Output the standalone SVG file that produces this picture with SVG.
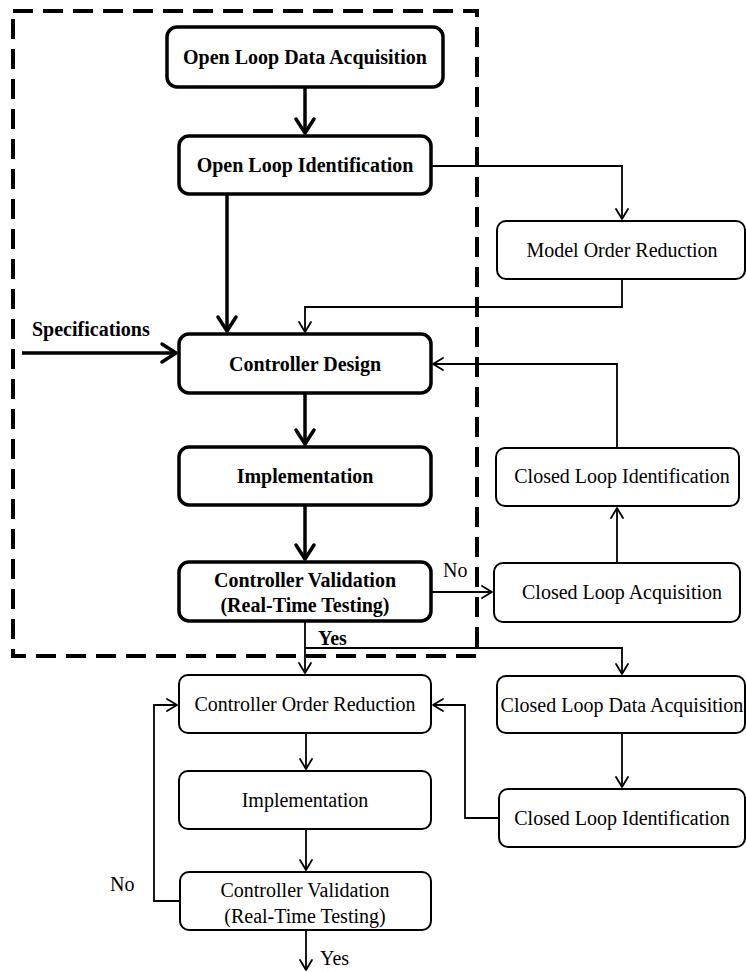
<svg xmlns="http://www.w3.org/2000/svg" width="746" height="972" viewBox="0 0 746 972">
<style>
text{font-family:"Liberation Serif","Times New Roman",serif;font-size:20px;fill:#000}
.b{font-weight:bold}
.m{text-anchor:middle}
.bb{fill:#fff;stroke:#000;stroke-width:3.5}
.tb{fill:#fff;stroke:#000;stroke-width:2}
.bl{fill:none;stroke:#000;stroke-width:3.5;marker-end:url(#ab)}
.tl{fill:none;stroke:#000;stroke-width:1.8;marker-end:url(#at)}
.tn{fill:none;stroke:#000;stroke-width:1.8}
</style>
<defs>
<marker id="ab" markerUnits="userSpaceOnUse" markerWidth="30" markerHeight="30" viewBox="-20 -15 30 30" refX="0" refY="0" orient="auto"><path d="M-14,-9 L0,0 L-14,9" fill="none" stroke="#000" stroke-width="3.5" stroke-linecap="round" stroke-linejoin="round"/></marker>
<marker id="at" markerUnits="userSpaceOnUse" markerWidth="24" markerHeight="24" viewBox="-14 -12 24 24" refX="0" refY="0" orient="auto"><path d="M-10,-6 L0,0 L-10,6" fill="none" stroke="#000" stroke-width="1.8" stroke-linecap="round" stroke-linejoin="round"/></marker>
</defs>
<rect x="13" y="11" width="464" height="645" fill="none" stroke="#000" stroke-width="4" stroke-dasharray="20 10"/>
<g id="connectors">
<path class="bl" d="M305,87 V133"/>
<path class="tl" d="M431,166 H622 V219"/>
<path class="bl" d="M227,194 V331"/>
<path class="tl" d="M622,279 V307 H305 V332"/>
<path class="bl" d="M22,353 H176"/>
<path class="tl" d="M617,448 V364 H433"/>
<path class="bl" d="M305,393 V444"/>
<path class="bl" d="M305,505 V559"/>
<path class="tl" d="M431,592 H492"/>
<path class="tl" d="M617,563 V508"/>
<path class="tl" d="M305,621 V673"/>
<path class="tl" d="M305,648 H622 V674"/>
<path class="tl" d="M622,733 V787"/>
<path class="tl" d="M499,818 H465 V705 H433"/>
<path class="tl" d="M306,733 V769"/>
<path class="tl" d="M306,829 V870"/>
<path class="tl" d="M180,901 H154 V705 H177"/>
<path class="tl" d="M306,930 V970"/>
</g>
<g id="labels">
<text class="b" x="32" y="336">Specifications</text>
<text x="443" y="577">No</text>
<text class="b" x="318" y="645">Yes</text>
<text x="110" y="891">No</text>
<text x="320" y="965">Yes</text>
</g>
<g id="n1"><rect class="bb" x="167" y="27" width="276" height="60" rx="10"/><text class="b m" x="305" y="64">Open Loop Data Acquisition</text></g>
<g id="n2"><rect class="bb" x="179" y="136" width="252" height="58" rx="10"/><text class="b m" x="305" y="172">Open Loop Identification</text></g>
<g id="n3"><rect class="bb" x="179" y="334" width="252" height="59" rx="10"/><text class="b m" x="305" y="371">Controller Design</text></g>
<g id="n4"><rect class="bb" x="179" y="447" width="252" height="58" rx="10"/><text class="b m" x="305" y="483">Implementation</text></g>
<g id="n5"><rect class="bb" x="179" y="562" width="252" height="59" rx="10"/><text class="b m" x="305" y="587">Controller Validation</text><text class="b m" x="305" y="612">(Real-Time Testing)</text></g>
<g id="n6"><rect class="tb" x="497" y="221" width="248" height="58" rx="9"/><text class="m" x="622" y="257">Model Order Reduction</text></g>
<g id="n7"><rect class="tb" x="496" y="448" width="243" height="58" rx="9"/><text class="m" x="622" y="483">Closed Loop Identification</text></g>
<g id="n8"><rect class="tb" x="494" y="563" width="246" height="59" rx="9"/><text class="m" x="622" y="599">Closed Loop Acquisition</text></g>
<g id="n9"><rect class="tb" x="497" y="676" width="248" height="57" rx="9"/><text class="m" x="622" y="712">Closed Loop Data Acquisition</text></g>
<g id="n10"><rect class="tb" x="179" y="675" width="252" height="58" rx="9"/><text class="m" x="305" y="711">Controller Order Reduction</text></g>
<g id="n11"><rect class="tb" x="179" y="771" width="252" height="58" rx="9"/><text class="m" x="305" y="807">Implementation</text></g>
<g id="n12"><rect class="tb" x="180" y="872" width="251" height="58" rx="9"/><text class="m" x="305" y="897">Controller Validation</text><text class="m" x="305" y="923">(Real-Time Testing)</text></g>
<g id="n13"><rect class="tb" x="499" y="789" width="246" height="58" rx="9"/><text class="m" x="622" y="825">Closed Loop Identification</text></g>
</svg>
